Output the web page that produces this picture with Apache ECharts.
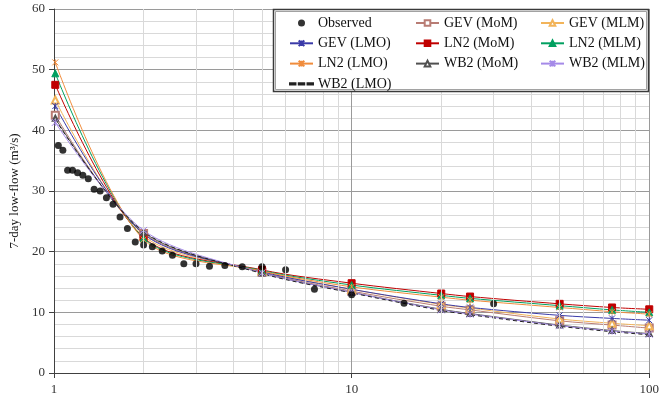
<!DOCTYPE html>
<html>
<head>
<meta charset="utf-8">
<script src="https://cdn.jsdelivr.net/npm/echarts@6/dist/echarts.min.js"></script>
<style>
  html, body { margin: 0; padding: 0; background: #fff; }
  #chart { width: 662px; height: 405px; }
</style>
</head>
<body>
<div id="chart"></div>
<script>
// 重现期 (return period) of fitted curves
const returnPeriods = [1.01, 2, 5, 10, 20, 25, 50, 75, 100]
// observed plotting positions and flows
const obsT = [30, 15, 10, 7.5, 6, 5, 4.29, 3.75, 3.33, 3.0, 2.73, 2.5, 2.31, 2.14, 2.0,
  1.875, 1.765, 1.667, 1.579, 1.5, 1.429, 1.364, 1.304, 1.25, 1.2, 1.154, 1.111, 1.071, 1.034]
const obsQ = [11.4, 11.5, 12.9, 13.8, 17.0, 17.5, 17.5, 17.7, 17.6, 18.0, 18.0, 19.4, 20.1, 20.8, 21.1,
  21.6, 23.8, 25.7, 27.8, 28.9, 30.0, 30.3, 32.0, 32.6, 33.0, 33.4, 33.4, 36.7, 37.5]
// fitted quantiles
const gevMoM = [42.5, 23.0, 16.6, 13.5, 11.0, 10.4, 8.6, 7.9, 7.4]
const gevMLM = [45.0, 22.6, 16.8, 13.8, 11.3, 10.7, 8.9, 8.2, 7.8]
const gevLMO = [44.0, 22.9, 16.7, 13.8, 11.4, 10.8, 9.5, 9.0, 8.7]
const ln2MoM = [47.5, 22.3, 17.0, 14.8, 13.1, 12.6, 11.4, 10.8, 10.5]
const ln2MLM = [49.4, 22.2, 16.9, 14.5, 12.8, 12.3, 11.1, 10.4, 10.0]
const ln2LMO = [51.2, 22.0, 16.8, 14.2, 12.5, 12.0, 10.8, 10.1, 9.7]
const wb2MoM = [42.0, 23.2, 16.5, 13.3, 10.5, 9.8, 7.9, 7.0, 6.5]
const wb2MLM = [41.3, 23.5, 16.5, 13.3, 10.4, 9.7, 7.8, 6.9, 6.4]
const wb2LMO = [41.8, 23.3, 16.4, 13.2, 10.3, 9.6, 7.7, 6.8, 6.3]
// 次网格线
const minorX = [2, 3, 4, 5, 6, 7, 8, 9, 20, 30, 40, 50, 60, 70, 80, 90]

const chart = echarts.init(document.getElementById('chart'))
const FONT = 'Liberation Serif'
const ASTER = 'path://M0 0L10 10M10 0L0 10M5 0L5 10'
const DASH = 'path://M0 3.5h5v1.2H0zM8 3.5h5v1.2H8zM16 3.5h5v1.2h-5z'

const pair = (vals) => returnPeriods.map((t, i) => [t, vals[i]])

// 拟合曲线
const fit = (name, vals, color, symbol, size, extra) => Object.assign({
  name: name,
  type: 'line',
  data: pair(vals),
  smooth: 0.3,
  symbol: symbol,
  symbolSize: size,
  lineStyle: { color: color, width: 1 },
  itemStyle: { color: color, borderColor: color, borderWidth: 1 },
  z: 3
}, extra || {})

const option = {
  animation: false,
  grid: { left: 54, right: 11, top: 9, bottom: 32 },
  xAxis: {
    type: 'log',
    logBase: 10,
    min: 1,
    max: 100,
    axisLine: { lineStyle: { color: '#404040', width: 1 } },
    axisTick: { show: true, length: 5, lineStyle: { color: '#404040' } },
    axisLabel: { color: '#333', fontFamily: FONT, fontSize: 13, margin: 10 },
    splitLine: { show: true, lineStyle: { color: '#9a9a9a', width: 1 } }
  },
  yAxis: {
    type: 'value',
    min: 0,
    max: 60,
    interval: 10,
    name: '7-day low-flow (m\u00b3/s)',
    nameLocation: 'middle',
    nameRotate: 90,
    nameGap: 31,
    nameTextStyle: { color: '#111', fontFamily: FONT, fontSize: 13 },
    axisLine: { show: true, lineStyle: { color: '#404040', width: 1 } },
    axisTick: { show: true, length: 5, lineStyle: { color: '#404040' } },
    axisLabel: { color: '#333', fontFamily: FONT, fontSize: 13, margin: 9 },
    splitLine: { show: true, lineStyle: { color: '#9a9a9a', width: 1 } },
    minorTick: { show: false, splitNumber: 5 },
    minorSplitLine: { show: true, lineStyle: { color: '#d9d9d9', width: 1 } }
  },
  graphic: [
    {
      type: 'rect', z: 20, silent: true,
      shape: { x: 273.5, y: 9.5, width: 375, height: 82 },
      style: { fill: '#fff', stroke: '#3a3a3a', lineWidth: 1.5 }
    },
    {
      type: 'rect', z: 21, silent: true,
      shape: { x: 275.5, y: 11.5, width: 371, height: 78 },
      style: { fill: 'none', stroke: '#8a8a8a', lineWidth: 0.8 }
    }
  ],
  legend: [
    { data: ['Observed', 'GEV (LMO)', 'LN2 (LMO)', { name: 'WB2 (LMO)', icon: DASH }], left: 284, top: 11 },
    { data: ['GEV (MoM)', 'LN2 (MoM)', 'WB2 (MoM)'], left: 410, top: 11 },
    { data: ['GEV (MLM)', 'LN2 (MLM)', 'WB2 (MLM)'], left: 535, top: 11 }
  ].map((l) => Object.assign({
    orient: 'vertical',
    z: 30,
    itemWidth: 23,
    itemHeight: 7,
    itemGap: 6.3,
    selectedMode: false,
    textStyle: { color: '#111', fontFamily: FONT, fontSize: 14, lineHeight: 14 }
  }, l)),
  series: [
    {
      name: 'grid',
      type: 'line',
      data: [],
      silent: true,
      z: 1,
      markLine: {
        silent: true,
        symbol: 'none',
        label: { show: false },
        lineStyle: { color: '#d9d9d9', width: 1, type: 'solid' },
        data: minorX.map((v) => ({ xAxis: v }))
      }
    },
    fit('GEV (MoM)', gevMoM, '#b87c74', 'emptyRect', 7),
    fit('GEV (MLM)', gevMLM, '#f2b45a', 'emptyTriangle', 7),
    fit('GEV (LMO)', gevLMO, '#3a3aa8', ASTER, 6),
    fit('LN2 (MoM)', ln2MoM, '#c00000', 'rect', 7),
    fit('LN2 (MLM)', ln2MLM, '#00a060', 'triangle', 7),
    fit('LN2 (LMO)', ln2LMO, '#f08c3c', ASTER, 6),
    fit('WB2 (MoM)', wb2MoM, '#505050', 'emptyTriangle', 5),
    fit('WB2 (MLM)', wb2MLM, '#a58ae8', ASTER, 7),
    fit('WB2 (LMO)', wb2LMO, '#222222', 'none', 4, {
      lineStyle: { color: '#222222', width: 1, type: [4, 3] }
    }),
    {
      name: 'Observed',
      type: 'scatter',
      data: obsT.map((t, i) => [t, obsQ[i]]),
      symbol: 'circle',
      symbolSize: 7,
      itemStyle: { color: '#000' },
      z: 4
    }
  ]
}
chart.setOption(option)
</script>
</body>
</html>
